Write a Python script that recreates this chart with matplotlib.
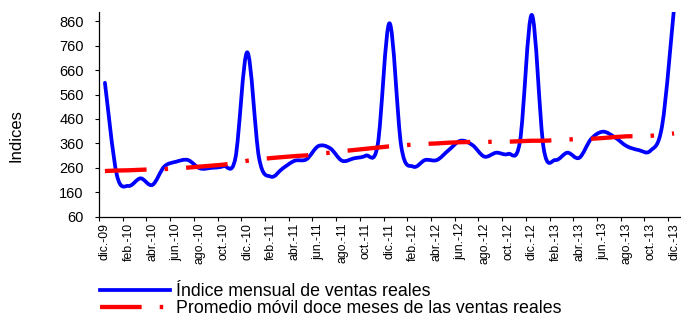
import numpy as np
import matplotlib
matplotlib.use('Agg')
import matplotlib.pyplot as plt
from matplotlib.path import Path
from matplotlib.patches import PathPatch
from matplotlib.lines import Line2D

plt.rcParams['font.family'] = ['Liberation Sans', 'DejaVu Sans']
plt.rcParams['lines.scale_dashes'] = False

# monthly index, dic-09 .. dic-13
indice = [608, 232, 186, 217, 190, 265, 285, 292, 258, 260, 267, 299,
          733, 300, 224, 258, 289, 295, 349, 340, 289, 299, 310, 353,
          852, 345, 265, 292, 292, 333, 371, 353, 306, 322, 317, 367,
          886, 340, 292, 322, 301, 378, 408, 385, 349, 333, 330, 435,
          915]
# twelve month moving average
promedio = [247, 249, 250, 252, 254, 255, 257, 261, 265, 269, 273, 280,
            289, 295, 300, 304, 308, 311, 318, 322, 328, 333, 338, 343,
            348, 352, 355, 358, 360, 363, 365, 366, 366, 367, 367, 369,
            371, 371, 373, 376, 378, 379, 382, 386, 389, 390, 391, 395,
            401]
tick_labels = ['dic.-09', 'feb.-10', 'abr.-10', 'jun.-10', 'ago.-10', 'oct.-10',
               'dic.-10', 'feb.-11', 'abr.-11', 'jun.-11', 'ago.-11', 'oct.-11',
               'dic.-11', 'feb.-12', 'abr.-12', 'jun.-12', 'ago.-12', 'oct.-12',
               'dic.-12', 'feb.-13', 'abr.-13', 'jun.-13', 'ago.-13', 'oct.-13',
               'dic.-13']
serie1 = 'Índice mensual de ventas reales'
serie2 = 'Promedio móvil doce meses de las ventas reales'

blue = '#0000FF'
red = '#FF0000'
red_dash = (0, (30, 13, 2.5, 13))


def smooth_path(xs, ys):
    # excel-like smoothed line: bezier segments through the data points
    p = np.column_stack([xs, ys]).astype(float)
    pad = np.vstack([p[0], p, p[-1]])
    verts = [p[0]]
    codes = [Path.MOVETO]
    for i in range(len(p) - 1):
        c1 = pad[i + 1] + (pad[i + 2] - pad[i]) / 6
        c2 = pad[i + 2] - (pad[i + 3] - pad[i + 1]) / 6
        verts += [c1, c2, p[i + 1]]
        codes += [Path.CURVE4] * 3
    return Path(verts, codes)


x = np.arange(len(indice))

fig = plt.figure(figsize=(6.81, 3.18), dpi=100)
ax = fig.add_axes([99 / 681, 1 - 216.7 / 318, 581 / 681, (216.7 - 11.5) / 318])

ax.add_patch(PathPatch(smooth_path(x, indice), fill=False, edgecolor=blue,
                       lw=2.7, capstyle='round', joinstyle='round'))
ax.plot(x, promedio, color=red, lw=3.1, linestyle=red_dash)

ax.set_xlim(-0.5, 48.5)
ax.set_ylim(60, 900)
ax.set_yticks(range(60, 861, 100))
ax.set_xticks(np.arange(-0.5, 48, 2))
ax.set_xticklabels([])
ax.set_xticks(np.arange(0, 49, 2), minor=True)
ax.set_xticklabels(tick_labels, minor=True, rotation=90, fontsize=8.8)
ax.tick_params(axis='x', which='major', length=3, width=0.8, direction='out')
ax.tick_params(axis='x', which='minor', length=0, pad=4.5)
ax.tick_params(axis='y', length=3, width=0.8, pad=8, labelsize=10.5)

for s in ['top', 'right']:
    ax.spines[s].set_visible(False)
for s in ['left', 'bottom']:
    ax.spines[s].set_linewidth(0.9)

fig.text(16 / 681, 1 - 136 / 318, 'Indices', rotation=90, ha='center',
         va='center', fontsize=12)

handles = [Line2D([], [], color=blue, lw=2.7),
           Line2D([], [], color=red, lw=3.1, linestyle=red_dash)]
fig.legend(handles, [serie1, serie2], loc='upper left',
           bbox_to_anchor=(100 / 681, 1 - 283 / 318), frameon=False,
           fontsize=12.8, handlelength=3.95, handletextpad=0.3,
           labelspacing=0.0, borderpad=0, borderaxespad=0)

fig.savefig('out.png', dpi=100)
